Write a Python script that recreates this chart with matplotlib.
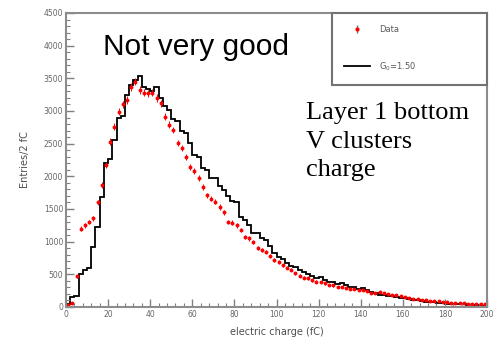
import matplotlib
matplotlib.use('Agg')
import matplotlib.pyplot as plt
import numpy as np
from matplotlib.ticker import MultipleLocator

# histogram binning: 2 fC bins from 0 to 200 fC
bin_width = 2
x_min, x_max = 0, 200

# simulated charge, G0 = 1.50 (entries per 2 fC bin)
mc_counts = [
    40, 150, 170, 500, 560, 600, 920, 1220, 1680, 2200,
    2260, 2550, 2890, 2920, 3240, 3400, 3470, 3540, 3360, 3330,
    3300, 3370, 3200, 3080, 3010, 2880, 2850, 2700, 2660, 2510,
    2330, 2300, 2120, 2090, 1980, 1970, 1850, 1790, 1700, 1620,
    1610, 1380, 1330, 1250, 1140, 1130, 1050, 1030, 930, 820,
    770, 740, 680, 620, 610, 560, 530, 500, 470, 450,
    460, 410, 390, 380, 350, 370, 330, 310, 300, 280,
    290, 260, 230, 220, 190, 180, 170, 175, 150, 140,
    145, 120, 110, 100, 85, 80, 75, 70, 60, 55,
    50, 50, 45, 45, 40, 35, 30, 25, 20, 15,
]

# measured charge (entries per 2 fC bin)
data_counts = [
    30, 60, 470, 1200, 1250, 1300, 1360, 1600, 1870, 2170,
    2530, 2760, 2990, 3100, 3170, 3370, 3450, 3320, 3280, 3270,
    3280, 3200, 3120, 2910, 2790, 2710, 2510, 2430, 2300, 2140,
    2080, 1970, 1840, 1710, 1660, 1610, 1530, 1450, 1300, 1290,
    1250, 1180, 1070, 1050, 1000, 900, 870, 840, 780, 720,
    690, 640, 600, 570, 520, 480, 450, 440, 410, 390,
    380, 360, 340, 330, 310, 310, 290, 280, 270, 260,
    260, 240, 220, 210, 230, 220, 200, 190, 180, 170,
    160, 140, 130, 120, 110, 100, 95, 90, 85, 80,
    70, 65, 60, 55, 55, 50, 50, 48, 45, 45,
]

edges = np.arange(x_min, x_max + bin_width, bin_width)
centers = 0.5 * (edges[:-1] + edges[1:])
data = np.array(data_counts, dtype=float)

fig = plt.figure(figsize=(4.93, 3.46), dpi=100)
ax = fig.add_axes([66 / 493, 39 / 346, 421 / 493, 294 / 346])

ax.stairs(mc_counts, edges, color='black', lw=1.3, label='G$_0$=1.50')
ax.errorbar(centers, data, yerr=np.sqrt(data), fmt='o', ms=1.8,
            color='red', ecolor='red', elinewidth=0.7, capsize=0)

# legend proxy for the data entry (grey bar, red dot)
data_proxy = ax.errorbar([np.nan], [np.nan], yerr=[1.0], fmt='o', ms=2.0,
                         color='red', ecolor='0.45', elinewidth=1.0)
line_h = ax.get_legend_handles_labels()[0][0]

ax.set_xlim(x_min, x_max)
ax.set_ylim(0, 4500)

ax.xaxis.set_major_locator(MultipleLocator(20))
ax.xaxis.set_minor_locator(MultipleLocator(4))
ax.yaxis.set_major_locator(MultipleLocator(500))
ax.yaxis.set_minor_locator(MultipleLocator(100))
ax.tick_params(which='both', direction='in', color='0.5', top=False, right=False)
ax.tick_params(which='major', length=6, width=1.0, labelsize=5.5, labelcolor='0.4', pad=2)
ax.tick_params(which='minor', length=3, width=0.8)

for sp in ax.spines.values():
    sp.set_color('0.55')
    sp.set_linewidth(1.5)

ax.set_xlabel('electric charge (fC)', fontsize=7, color='0.3', labelpad=6)
ax.set_ylabel('Entries/2 fC', fontsize=7, color='0.3', labelpad=10)

leg = ax.legend([data_proxy, line_h], ['Data', 'G$_0$=1.50'],
                loc='upper left', bbox_to_anchor=(0.632, 0.0, 0.368, 1.0),
                mode='expand', borderaxespad=0, fontsize=6, labelspacing=3.2,
                borderpad=1.4, handlelength=3.2, handletextpad=1.0,
                fancybox=False, framealpha=1, edgecolor='0.45', labelcolor='0.35')
leg.get_frame().set_linewidth(1.5)

ax.text(0.087, 0.885, 'Not very good', transform=ax.transAxes,
        fontsize=21.5, family='Liberation Sans', ha='left', va='center')
ax.text(0.571, 0.562, 'Layer 1 bottom\nV clusters\ncharge', transform=ax.transAxes,
        fontsize=19, family='Liberation Serif', ha='left', va='center',
        linespacing=1.38)

fig.savefig('out.png', dpi=100)
